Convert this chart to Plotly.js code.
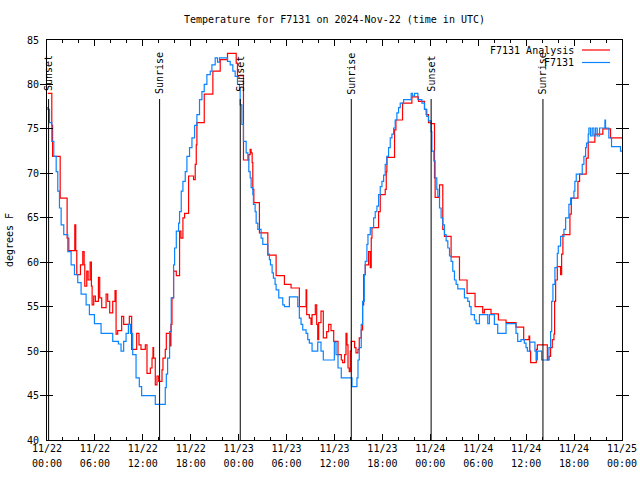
<!DOCTYPE html>
<html>
<head>
<meta charset="utf-8">
<script src="https://cdn.plot.ly/plotly-3.0.1.min.js"></script>
<style>html,body{margin:0;padding:0;background:#fff;}#chart{width:640px;height:480px;}</style>
</head>
<body>
<div id="chart"></div>
<script>
// Hours since 2024-11-22 00:00 UTC, and temperatures (deg F)
var analysisHours = [0.10,0.60,0.70,1.65,2.52,2.73,3.48,3.60,3.73,4.19,4.48,4.65,4.73,4.98,5.15,5.40,5.56,5.65,5.85,6.06,6.44,6.60,6.85,7.40,7.60,7.85,8.23,8.52,8.65,8.85,9.35,9.60,10.31,10.60,11.23,11.52,11.77,12.19,12.31,12.52,12.94,13.15,13.27,13.35,13.56,13.77,13.98,14.40,14.52,14.81,14.94,15.44,15.52,15.65,15.85,16.19,16.60,16.77,17.02,17.23,17.73,18.35,18.56,18.69,18.77,19.69,20.77,21.69,22.60,23.69,23.85,24.60,25.27,25.44,25.56,25.69,25.77,25.90,26.60,27.65,28.69,29.73,30.56,31.60,32.44,32.52,32.85,33.06,33.19,33.60,33.77,33.90,34.02,34.31,34.60,35.02,35.27,35.56,35.90,36.44,36.85,37.02,37.27,37.44,37.56,37.69,37.85,37.98,38.10,38.52,38.69,38.94,39.10,39.35,39.52,39.65,39.85,40.27,40.48,40.60,40.69,41.52,41.73,42.35,42.48,42.56,43.52,43.69,44.52,45.69,46.52,47.27,47.48,47.77,48.10,48.52,48.60,49.15,49.56,49.77,50.60,51.65,52.60,53.60,54.56,54.77,55.60,56.52,57.48,58.73,59.69,60.35,60.44,60.56,61.27,61.40,62.65,62.85,63.06,63.27,63.48,63.56,63.69,63.90,64.31,64.44,64.60,65.48,65.65,66.48,66.69,67.52,67.77,68.60,69.60,70.56,72.0];
var analysisTemps = [79.0,75.4,71.9,67.2,62.7,61.3,64.2,61.3,58.6,59.7,61.2,59.7,57.3,59.0,58.0,60.0,57.3,55.2,56.2,55.6,58.3,56.0,54.9,56.4,55.6,54.3,55.6,56.8,51.9,52.3,53.9,53.0,53.9,50.2,52.0,50.7,50.2,50.2,50.7,47.5,48.1,49.2,50.4,49.2,46.2,47.2,46.6,47.9,49.2,50.2,52.0,50.6,53.0,56.0,59.0,58.5,63.5,62.7,65.0,65.5,69.7,69.3,71.0,73.2,75.7,78.9,81.5,82.8,83.5,82.4,81.0,71.5,72.1,72.7,72.3,71.2,68.2,66.7,63.3,60.8,58.5,57.5,57.1,55.0,56.9,54.1,53.7,53.0,54.1,55.2,53.0,51.3,53.2,54.5,51.5,52.2,53.0,52.3,51.1,49.6,49.0,48.7,49.6,52.0,50.7,48.1,47.7,50.0,51.1,50.4,49.8,50.2,51.5,52.4,55.2,58.6,59.7,61.2,59.4,62.7,63.9,65.7,67.6,68.2,70.2,71.8,74.9,76.0,77.9,78.6,78.1,77.2,76.6,75.7,75.6,69.5,67.3,68.7,63.7,62.9,60.6,58.0,56.5,55.0,54.3,54.7,54.2,53.5,53.2,52.7,51.3,51.7,50.0,48.7,50.2,50.7,49.0,49.4,50.4,51.3,51.9,55.6,58.0,59.5,58.6,60.9,63.1,65.4,67.2,69.1,69.9,71.7,73.5,74.4,75.0,74.0,74.0];

var stationHours = [0.02,0.10,0.31,0.60,0.85,1.15,1.35,1.56,1.77,2.10,2.60,3.02,3.44,3.85,4.27,4.90,5.31,5.94,6.77,8.23,8.94,9.27,9.60,9.90,10.19,10.44,10.73,11.15,11.56,11.85,13.56,14.81,14.94,15.10,15.35,15.56,15.85,15.98,16.19,16.48,16.60,16.81,17.02,17.31,17.52,17.85,18.15,18.48,18.77,19.10,19.40,19.69,20.02,20.44,20.65,21.06,21.35,21.60,22.60,22.94,23.27,23.56,23.85,24.10,24.19,24.40,24.60,24.94,25.15,25.27,25.44,25.56,25.77,25.85,26.06,26.19,26.40,26.81,27.02,27.65,27.85,27.98,28.19,28.35,28.56,28.69,29.02,29.52,29.73,30.35,31.40,31.60,31.81,32.02,32.44,32.65,32.85,33.19,33.90,34.31,34.60,35.98,36.19,36.44,36.85,38.19,38.81,38.94,39.10,39.35,39.52,39.73,39.85,40.06,40.19,40.48,40.90,41.10,41.31,41.52,41.73,41.94,42.15,42.35,42.56,42.77,42.98,43.19,43.40,43.60,43.81,44.02,44.23,44.65,45.60,45.77,46.02,46.44,46.94,47.27,47.56,47.77,48.10,48.19,48.44,48.60,48.81,48.94,49.15,49.35,49.56,49.77,49.98,50.19,50.40,50.60,50.81,51.02,51.23,51.44,52.27,52.69,52.90,53.10,53.52,53.73,54.15,55.19,55.40,56.02,56.44,57.48,58.73,58.94,59.35,59.77,59.98,60.15,60.44,61.10,61.27,61.40,61.94,62.85,63.06,63.19,63.35,63.60,63.90,64.02,64.31,64.73,64.94,65.35,65.56,65.98,66.10,66.27,67.02,67.23,67.44,67.56,67.77,67.85,68.06,68.27,68.48,68.69,68.90,69.19,69.86,69.94,70.35,70.69,71.81,72.0];
var stationTemps = [77.4,77.2,75.7,73.6,71.9,70.2,68.0,66.1,64.2,63.1,61.2,59.7,58.6,57.7,56.4,55.2,54.1,53.1,52.0,51.1,50.8,50.0,51.1,52.0,53.0,52.0,49.6,47.0,46.0,45.0,44.0,45.9,47.4,49.2,52.2,56.0,59.7,61.6,63.5,64.4,65.7,68.0,69.1,70.2,71.9,72.9,74.0,75.4,76.6,78.3,79.2,80.0,81.1,81.5,82.2,83.0,82.5,83.0,82.6,82.2,81.5,80.9,80.0,79.4,77.7,75.5,73.6,72.3,71.5,70.2,69.5,68.4,67.6,66.5,65.7,64.4,63.7,62.7,62.0,60.9,60.3,59.7,58.8,58.2,57.5,56.9,56.0,55.2,55.0,56.1,55.0,53.7,53.0,52.4,52.0,51.3,50.9,50.0,51.0,50.0,49.0,51.0,49.6,48.1,47.0,46.0,47.0,49.0,50.4,53.0,55.6,58.6,60.1,62.0,63.1,63.9,65.0,65.7,66.3,67.6,68.5,69.1,69.8,71.0,71.9,72.9,74.0,74.4,75.1,76.0,76.8,77.4,77.9,78.3,79.0,78.7,79.0,78.3,77.9,77.2,76.4,75.9,74.7,72.5,71.4,69.5,68.2,67.4,66.1,65.0,64.2,63.1,62.4,61.6,60.7,60.1,59.0,58.0,57.5,57.0,56.0,55.6,55.0,54.1,53.5,53.1,54.1,53.1,54.1,53.0,52.0,53.1,52.0,51.1,51.3,50.9,50.4,50.0,51.0,50.0,49.0,50.0,49.0,50.4,52.2,55.6,57.5,59.4,61.0,61.8,62.9,63.7,65.0,66.5,67.2,68.0,69.1,69.9,71.0,71.9,72.9,73.4,74.4,75.1,74.2,75.1,74.2,75.1,74.2,75.1,76.0,75.1,74.0,73.0,72.5,72.5];

var sunLabels = ['Sunset','Sunrise','Sunset','Sunrise','Sunset','Sunrise'];
var sunHours = [0.2, 14.1, 24.2, 38.1, 48.1, 62.1];

var tickHours = [0,6,12,18,24,30,36,42,48,54,60,66,72];
var tickDates = ['11/22','11/22','11/22','11/22','11/23','11/23','11/23','11/23','11/24','11/24','11/24','11/24','11/25'];
var tickTimes = ['00:00','06:00','12:00','18:00','00:00','06:00','12:00','18:00','00:00','06:00','12:00','18:00','00:00'];
var seriesNames = ['F7131 Analysis', 'F7131'];

var T0 = Date.UTC(2024, 10, 22, 0, 0, 0);
function toMs(h){ return T0 + h*3600000; }

var FONT = 'DejaVu Sans Mono, Liberation Mono, monospace';

var traces = [
  {x: analysisHours.map(toMs), y: analysisTemps, type:'scatter', mode:'lines',
   line:{color:'#ff0000', width:1.2, shape:'hv'}, name: seriesNames[0], showlegend:false},
  {x: stationHours.map(toMs), y: stationTemps, type:'scatter', mode:'lines',
   line:{color:'#0a84ff', width:1.2, shape:'hv'}, name: seriesNames[1], showlegend:false},
  {x: [toMs(0)], y: [40], xaxis:'x2', type:'scatter', mode:'markers',
   marker:{opacity:0, size:1}, hoverinfo:'skip', showlegend:false}
];

var shapes = [];
var annotations = [];
var lineTop = (440-99)/400;
for (var i=0;i<sunHours.length;i++){
  shapes.push({type:'line', xref:'x', yref:'paper', x0:toMs(sunHours[i]), x1:toMs(sunHours[i]),
    y0:0, y1:lineTop, line:{color:'#000', width:1}});
  annotations.push({xref:'x', yref:'paper', x:toMs(sunHours[i]), y:(440-73.5)/400,
    text:sunLabels[i], textangle:-90, showarrow:false, xanchor:'center', yanchor:'middle',
    font:{family:FONT, size:10, color:'#000'}});
}
// legend (gnuplot style: text then sample line)
var legY = [(440-50)/400, (440-62.5)/400];
var legColors = ['#ff0000', '#0a84ff'];
for (var j=0;j<2;j++){
  annotations.push({xref:'paper', yref:'paper', x:(576-47)/575, y:legY[j], text:seriesNames[j],
    showarrow:false, xanchor:'right', yanchor:'middle', font:{family:FONT, size:10, color:'#000'}});
  shapes.push({type:'line', xref:'paper', yref:'paper', x0:(582-47)/575, x1:(610-47)/575,
    y0:legY[j], y1:legY[j], line:{color:legColors[j], width:1.2}});
}

var tf = {family:FONT, size:10, color:'#000'};
var layout = {
  width:640, height:480,
  margin:{l:47, r:18, t:40, b:40, pad:0},
  paper_bgcolor:'#ffffff', plot_bgcolor:'#ffffff',
  font:{family:FONT, size:10, color:'#000'},
  title:{text:'Temperature for F7131 on 2024-Nov-22 (time in UTC)', x:0.5, xref:'paper',
         y:1-19/480, yanchor:'middle', font:tf},
  xaxis:{type:'date', range:[toMs(0), toMs(72)], tickmode:'array',
         tickvals: tickHours.map(toMs), ticktext: tickDates, tickangle:0,
         ticks:'inside', ticklen:6, tickcolor:'#000', tickwidth:1, ticklabelstandoff:-1,
         showline:true, linecolor:'#000', linewidth:1, mirror:'allticks',
         showgrid:false, zeroline:false, tickfont:tf,
         minor:{tick0:toMs(0), dtick:2*3600000, ticks:'inside', ticklen:3, tickcolor:'#000', showgrid:false}},
  xaxis2:{type:'date', overlaying:'x', anchor:'y', side:'bottom', range:[toMs(0), toMs(72)],
         tickmode:'array', tickvals: tickHours.map(toMs), ticktext: tickTimes, tickangle:0,
         ticks:'', showline:false, showgrid:false, zeroline:false, tickfont:tf,
         ticklabelstandoff:16},
  yaxis:{range:[40,85], dtick:5, tick0:40, ticks:'inside', ticklen:6, tickcolor:'#000', tickwidth:1,
         ticklabelstandoff:5,
         showline:true, linecolor:'#000', linewidth:1, mirror:'allticks',
         showgrid:false, zeroline:false, tickfont:tf,
         title:{text:'degrees F', font:tf, standoff:11}},
  shapes: shapes,
  annotations: annotations
};

Plotly.newPlot('chart', traces, layout, {staticPlot:true, displayModeBar:false});
</script>
</body>
</html>
